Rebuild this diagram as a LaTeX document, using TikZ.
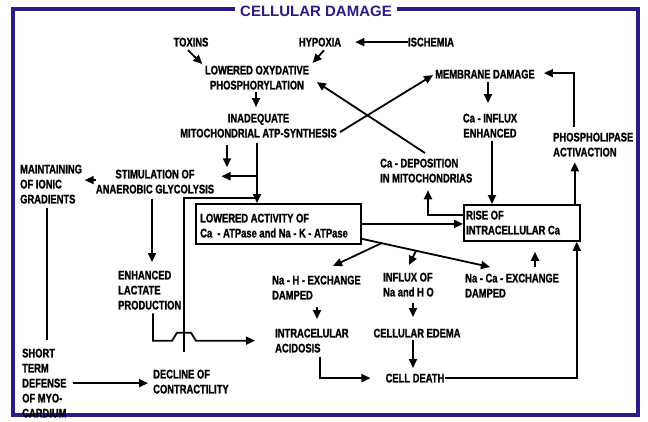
\documentclass[tikz,border=0pt]{standalone}
\usepackage{fontspec}
\usetikzlibrary{arrows.meta,calc}
\newfontfamily\condfont{Liberation Sans}[FakeStretch=0.75,FakeBold=1.2]
\newfontfamily\ttlfont{Liberation Sans}
\definecolor{frameblue}{RGB}{45,25,135}
\begin{document}
\begin{tikzpicture}[x=1pt,y=-1pt,
  txt/.style={font=\condfont\bfseries\fontsize{12.5}{15}\selectfont, inner sep=0pt, align=left},
  ctxt/.style={txt, align=center},
  arr/.style={line width=1.8pt, -{Triangle[length=9pt,width=8pt]}},
  lnk/.style={line width=1.8pt},
  boxnode/.style={draw, line width=1.8pt, inner sep=0pt, anchor=north west}]
\useasboundingbox (0,0) rectangle (648,421);
\draw[frameblue, line width=3.3pt] (13,9) rectangle (638,415);
\node[font=\ttlfont\bfseries\fontsize{15}{18}\selectfont, text=frameblue, fill=white, inner xsep=5pt, inner ysep=1pt] (title) at (316,11) {CELLULAR DAMAGE};

\node[ctxt, anchor=north] (toxins) at (191,37.5) {TOXINS};
\node[ctxt, anchor=north] (hypoxia) at (320,37.5) {HYPOXIA};
\node[ctxt, anchor=north] (ischemia) at (431,37.5) {ISCHEMIA};
\node[ctxt, anchor=north] (lox) at (257,65.5) {LOWERED OXYDATIVE\\PHOSPHORYLATION};
\node[ctxt, anchor=north] (inad) at (258.5,113.5) {INADEQUATE\\MITOCHONDRIAL ATP-SYNTHESIS};
\node[ctxt, anchor=north] (memb) at (485,69.5) {MEMBRANE DAMAGE};
\node[ctxt, anchor=north] (cainf) at (490,113.5) {Ca - INFLUX\\ENHANCED};
\node[txt, anchor=north west] (phos) at (553,132.5) {PHOSPHOLIPASE\\ACTIVACTION};
\node[txt, anchor=north west] (cadep) at (380,158.5) {Ca - DEPOSITION\\IN MITOCHONDRIAS};
\node[txt, anchor=north west] (maint) at (20,164.5) {MAINTAINING\\OF IONIC\\GRADIENTS};
\node[ctxt, anchor=north] (stim) at (155,169.5) {STIMULATION OF\\ANAEROBIC GLYCOLYSIS};
\node[boxnode, minimum width=165pt, minimum height=40pt] (lact) at (195,203) {};
\node[txt, anchor=north west] (lacttext) at (200,213.5) {LOWERED ACTIVITY OF\\Ca~ - ATPase and Na - K - ATPase};
\node[boxnode, minimum width=116pt, minimum height=36pt] (rise) at (463,204) {};
\node[txt, anchor=north west] (risetext) at (466,210.5) {RISE OF\\INTRACELLULAR Ca};
\node[txt, anchor=north west] (nah) at (272,275.5) {Na - H - EXCHANGE\\DAMPED};
\node[txt, anchor=north west] (influx) at (383,272.5) {INFLUX OF\\Na and H O};
\node[txt, anchor=north west] (naca) at (465,273.5) {Na - Ca - EXCHANGE\\DAMPED};
\node[txt, anchor=north west] (acid) at (275,328.5) {INTRACELULAR\\ACIDOSIS};
\node[ctxt, anchor=north] (edema) at (417,328.5) {CELLULAR EDEMA};
\node[ctxt, anchor=north] (death) at (415,373.5) {CELL DEATH};
\node[txt, anchor=north west] (enh) at (118,270.5) {ENHANCED\\LACTATE\\PRODUCTION};
\node[txt, anchor=north west] (short) at (22,348.5) {SHORT\\TERM\\DEFENSE\\OF MYO-\\CARDIUM};
\node[txt, anchor=north west] (decl) at (153,369.5) {DECLINE OF\\CONTRACTILITY};

% top connectors
\draw[arr] ($(toxins.south)+(-3,3.5)$) -- ($(lox.north west)+(-2.5,-1.5)$);
\draw[arr] ($(hypoxia.south)+(4,3.5)$) -- ($(lox.north east)+(3.5,-2.5)$);
\draw[arr] (ischemia.west) -- ($(hypoxia.east)+(14,0)$);
\draw[arr] ($(lox.south)+(-1,2.5)$) -- ($(inad.north)+(-2.5,-6.5)$);
\draw[arr] ($(inad.east)+(3,6.5)$) -- ($(memb.west)+(-2,1)$);
\draw[arr] ($(cadep.north west)+(45,-5.5)$) -- ($(lox.east)+(7.6,4.5)$);
\draw[arr] ($(memb.south)+(3,3.5)$) -- ($(cainf.north)+(-2,-10.5)$);
\draw[arr] ($(cainf.south)+(2,3)$) coordinate (c1) -- (c1 |- rise.north);
\draw[arr] ($(rise.north east)+(-6,0)$) coordinate (c2) -- ($(c2 |- phos.south)+(0,5.5)$);
\draw[arr] ($(phos.north west)+(21,-5.5)$) |- ($(memb.east)+(9,-1)$);

% middle-left connectors
\draw[arr] ($(inad.south)+(-1.5,5.5)$) coordinate (c3) -- (c3 |- lact.north);
\draw[arr] ($(inad.south)+(-1.5,38.5)$) -- ($(inad.south)+(-37,38.5)$);
\draw[arr] ($(inad.south)+(-31.5,7.5)$) -- ($(inad.south)+(-31.5,29.5)$);
\draw[lnk] ($(inad.south)+(-1.5,60.5)$) -| ($(decl.north west)+(31,-17.5)$);
\draw[arr] ($(stim.west)+(0,-1.5)$) -- ($(maint.east |- stim.west)+(2.5,-1.5)$);
\draw[arr] ($(stim.south)+(-3,5.5)$) -- ($(enh.north west)+(34,-8.5)$);
\draw[lnk] ($(maint.south west)+(27,4.5)$) -- ($(short.north west)+(25,-8.5)$);
\draw[arr] ($(short.east)+(6,0)$) -- ($(short.east -| decl.west)+(-5,0)$);
\draw[arr] ($(enh.south west)+(35,3.5)$) -- ++(0,27.5) -- ++(19,0) -- ++(5,-8) -- ++(14,0) -- ++(5,8) -- ($(acid.west)+(-20,0)$);

% box connectors
\draw[arr] (lact.east) -- (lact.east -| rise.west);
\draw[arr] ($(rise.north west)+(0,11)$) -| ($(cadep.south west)+(48,7.5)$);
\draw[arr] ($(lact.south east)+(0,-6)$) -- coordinate[pos=0.154] (b1) coordinate[pos=0.423] (b2) ($(naca.north west)+(25,-6.5)$);
\draw[arr] (b1) -- ($(nah.north west)+(61,-9.5)$);
\draw[arr] (b2) -- ($(influx.north west)+(26,-7.5)$);
\draw[arr] ($(naca.north west)+(70,-6.5)$) -- ($(rise.south west)+(72,10)$);

% lower connectors
\draw[arr] ($(nah.south west)+(45,7.5)$) -- ($(acid.north west)+(42,-9.5)$);
\draw[arr] ($(influx.south west)+(30,6)$) -- ($(edema.north)+(-4,-11.5)$);
\draw[arr] ($(edema.south)+(-4,2.5)$) -- ($(death.north)+(-2,-5.5)$);
\draw[arr] ($(acid.south west)+(45,4.5)$) |- ($(death.west)+(-15,0)$);
\draw[arr] (death.east) -| ($(rise.south east)+(-4,0)$);
\end{tikzpicture}
\end{document}
